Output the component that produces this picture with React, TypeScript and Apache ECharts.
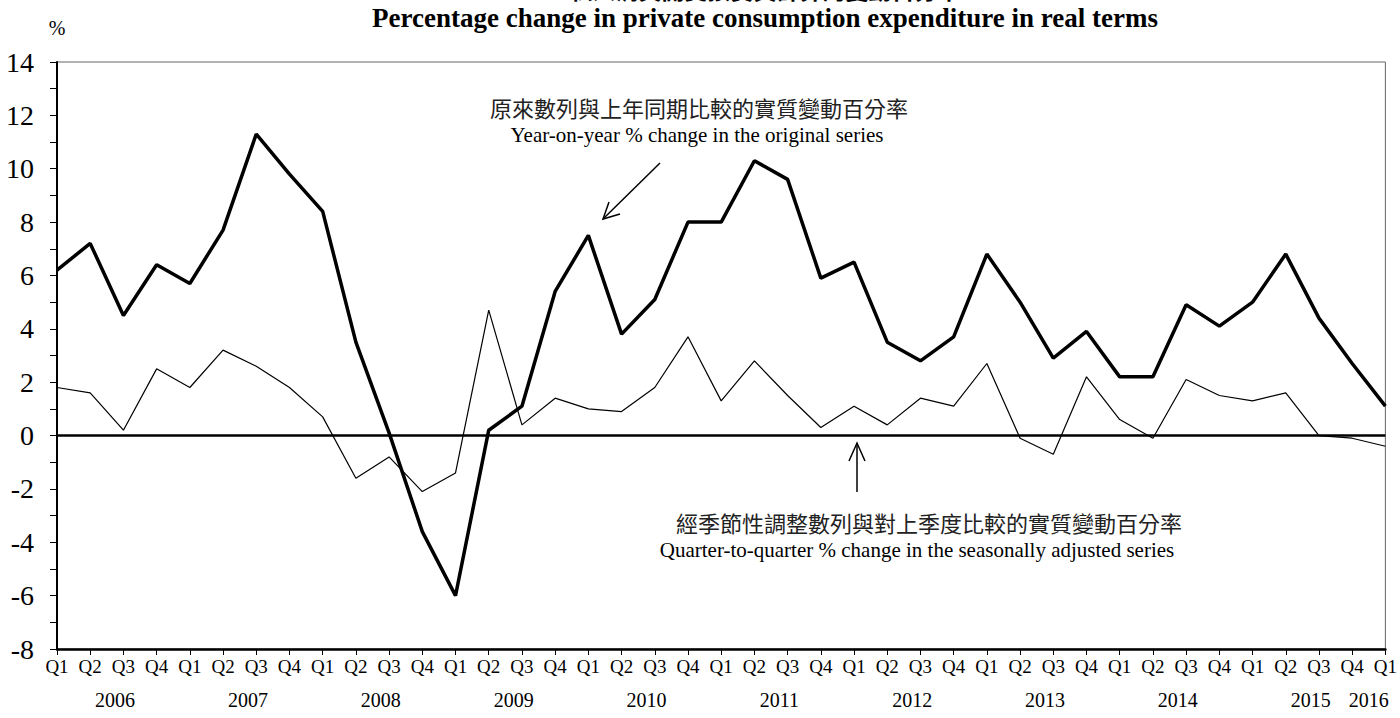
import React, { useEffect, useRef } from "react";
import * as echarts from "echarts";

const years = ["2006", "2007", "2008", "2009", "2010", "2011", "2012", "2013", "2014", "2015", "2016"];
const yearLabelPos = [1.75, 5.75, 9.75, 13.75, 17.75, 21.75, 25.75, 29.75, 33.75, 37.75, 39.5];
const quarters: string[] = [];
for (let y = 0; y < 10; y++) quarters.push("Q1", "Q2", "Q3", "Q4");
quarters.push("Q1");
const categories = quarters.map((q, i) => `${years[Math.floor(i / 4)]} ${q}`);

const yoy = [
  6.2, 7.2, 4.5, 6.4,
  5.7, 7.7, 11.3, 9.8,
  8.4, 3.5, 0.1, -3.6,
  -6.0, 0.2, 1.1, 5.4,
  7.5, 3.8, 5.1, 8.0,
  8.0, 10.3, 9.6, 5.9,
  6.5, 3.5, 2.8, 3.7,
  6.8, 5.0, 2.9, 3.9,
  2.2, 2.2, 4.9, 4.1,
  5.0, 6.8, 4.4, 2.7,
  1.1,
];
const qoq = [
  1.8, 1.6, 0.2, 2.5,
  1.8, 3.2, 2.6, 1.8,
  0.7, -1.6, -0.8, -2.1,
  -1.4, 4.7, 0.4, 1.4,
  1.0, 0.9, 1.8, 3.7,
  1.3, 2.8, 1.5, 0.3,
  1.1, 0.4, 1.4, 1.1,
  2.7, -0.1, -0.7, 2.2,
  0.6, -0.1, 2.1, 1.5,
  1.3, 1.6, 0.0, -0.1,
  -0.4,
];

const titleZh = "私人消費開支按實質計算的變動百分率";
const titleEn = "Percentage change in private consumption expenditure in real terms";
const yoyLabelZh = "原來數列與上年同期比較的實質變動百分率";
const yoyLabelEn = "Year-on-year % change in the original series";
const qoqLabelZh = "經季節性調整數列與對上季度比較的實質變動百分率";
const qoqLabelEn = "Quarter-to-quarter % change in the seasonally adjusted series";

const SERIF = "Liberation Serif";
const CJK = "Noto Sans CJK TC";

function txt(text: string, x: number, y: number, size: number, family: string, weight = "normal", fill = "#000") {
  return {
    type: "text", x, y,
    style: { text, fontSize: size, fontFamily: family, fontWeight: weight, fill, align: "center", verticalAlign: "middle" },
  };
}

export default function App() {
  const ref = useRef<HTMLDivElement>(null);
  useEffect(() => {
    document.body.style.margin = "0";
    if (!ref.current) return;
    const chart = echarts.init(ref.current, null, { renderer: "svg" });
    const option: any = {
      animation: false,
      backgroundColor: "#fff",
      grid: {
        left: 57, right: 11, top: 62, bottom: 69,
        show: true, borderColor: "#666", borderWidth: 1,
      },
      xAxis: {
        type: "category",
        data: categories,
        boundaryGap: false,
        axisLine: { show: true, onZero: false, lineStyle: { color: "#000", width: 2.5 } },
        axisTick: { show: true, interval: 0, length: 6, inside: false, lineStyle: { color: "#000", width: 1 } },
        axisLabel: {
          interval: 0, margin: 8, fontSize: 19, color: "#000", fontFamily: SERIF,
          formatter: (v: string) => v.split(" ")[1],
        },
        splitLine: { show: false },
      },
      yAxis: {
        type: "value",
        min: -8, max: 14, interval: 2,
        axisLine: { show: true, lineStyle: { color: "#000", width: 2 } },
        axisTick: { show: true, length: 7, lineStyle: { color: "#000", width: 1 } },
        minorTick: { show: true, splitNumber: 2, length: 7, lineStyle: { color: "#000", width: 1 } },
        axisLabel: { margin: 23, fontSize: 28, color: "#000", fontFamily: SERIF },
        splitLine: { show: false },
      },
      series: [
        {
          name: yoyLabelEn,
          type: "line",
          data: yoy,
          symbol: "none",
          lineStyle: { color: "#000", width: 3.5 },
          z: 3,
          markLine: {
            silent: true,
            symbol: "none",
            label: { show: false },
            lineStyle: { color: "#000", width: 2.5, type: "solid" },
            data: [{ yAxis: 0 }],
          },
        },
        {
          name: qoqLabelEn,
          type: "line",
          data: qoq,
          symbol: "none",
          lineStyle: { color: "#000", width: 1.2 },
          z: 2,
        },
      ],
    };
    chart.setOption(option);

    const p0 = chart.convertToPixel({ gridIndex: 0 }, [0, 0]) as number[];
    const p1 = chart.convertToPixel({ gridIndex: 0 }, [1, 0]) as number[];
    const step = p1[0] - p0[0];
    const yearTexts = years.map((y, i) => txt(y, p0[0] + yearLabelPos[i] * step, 700, 20, SERIF));

    chart.setOption({
      graphic: [
        txt(titleZh, 765, -11, 23, CJK, "bold"),
        txt(titleEn, 765, 18, 27, SERIF, "bold"),
        txt("%", 57, 28, 20, SERIF),
        txt(yoyLabelZh, 699, 107, 22, CJK, "normal", "#222"),
        txt(yoyLabelEn, 697, 135, 21, SERIF),
        { type: "line", shape: { x1: 660, y1: 163, x2: 603, y2: 219 }, style: { stroke: "#000", lineWidth: 1.5 } },
        { type: "polyline", shape: { points: [[620, 214], [603, 219], [609, 202]] }, style: { stroke: "#000", lineWidth: 1.5, fill: "none" } },
        { type: "line", shape: { x1: 857, y1: 492, x2: 857, y2: 443 }, style: { stroke: "#000", lineWidth: 1.5 } },
        { type: "polyline", shape: { points: [[849, 461], [857, 443], [865, 461]] }, style: { stroke: "#000", lineWidth: 1.5, fill: "none" } },
        txt(qoqLabelZh, 929, 522, 22, CJK, "normal", "#222"),
        txt(qoqLabelEn, 917, 550, 21, SERIF),
        ...yearTexts,
      ],
    });
    return () => chart.dispose();
  }, []);
  return <div ref={ref} style={{ width: 1400, height: 718 }} />;
}
